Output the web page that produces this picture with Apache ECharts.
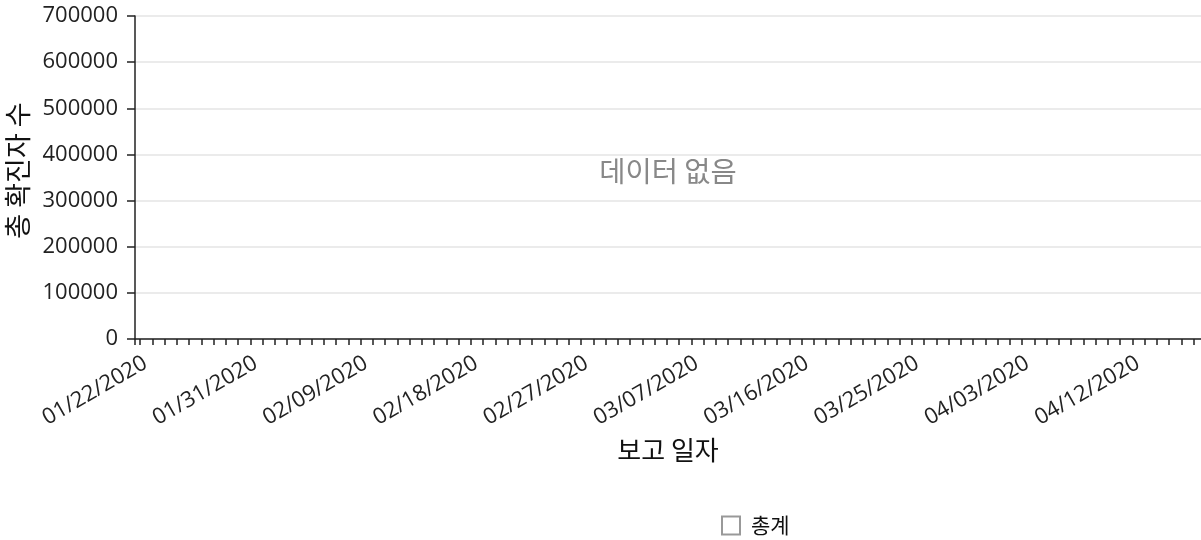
<!DOCTYPE html>
<html>
<head>
<meta charset="utf-8">
<script src="https://cdn.jsdelivr.net/npm/echarts@6/dist/echarts.min.js"></script>
<style>
html,body{margin:0;padding:0;background:#fff;}
#chart{width:1201px;height:540px;}
</style>
</head>
<body>
<div id="chart"></div>
<script>
// Categories: reporting dates (daily)
const dates = [
  '01/22/2020','01/23/2020','01/24/2020','01/25/2020','01/26/2020','01/27/2020','01/28/2020','01/29/2020','01/30/2020','01/31/2020',
  '02/01/2020','02/02/2020','02/03/2020','02/04/2020','02/05/2020','02/06/2020','02/07/2020','02/08/2020','02/09/2020','02/10/2020',
  '02/11/2020','02/12/2020','02/13/2020','02/14/2020','02/15/2020','02/16/2020','02/17/2020','02/18/2020','02/19/2020','02/20/2020',
  '02/21/2020','02/22/2020','02/23/2020','02/24/2020','02/25/2020','02/26/2020','02/27/2020','02/28/2020','02/29/2020',
  '03/01/2020','03/02/2020','03/03/2020','03/04/2020','03/05/2020','03/06/2020','03/07/2020','03/08/2020','03/09/2020','03/10/2020',
  '03/11/2020','03/12/2020','03/13/2020','03/14/2020','03/15/2020','03/16/2020','03/17/2020','03/18/2020','03/19/2020','03/20/2020',
  '03/21/2020','03/22/2020','03/23/2020','03/24/2020','03/25/2020','03/26/2020','03/27/2020','03/28/2020','03/29/2020','03/30/2020','03/31/2020',
  '04/01/2020','04/02/2020','04/03/2020','04/04/2020','04/05/2020','04/06/2020','04/07/2020','04/08/2020','04/09/2020','04/10/2020',
  '04/11/2020','04/12/2020','04/13/2020','04/14/2020','04/15/2020','04/16/2020','04/17/2020'
];
// Tick labels shown on the x axis
const xTickLabels = ['01/22/2020','01/31/2020','02/09/2020','02/18/2020','02/27/2020','03/07/2020','03/16/2020','03/25/2020','04/03/2020','04/12/2020'];
// Y axis ticks
const yTicks = [0, 100000, 200000, 300000, 400000, 500000, 600000, 700000];
// Series: total confirmed (no data available)
const seriesName = '총계';
const totals = [];
const noDataText = '데이터 없음';

const FONT = '"Open Sans", "Noto Sans CJK KR", sans-serif';
const KFONT = '"Noto Sans CJK KR", "Open Sans", sans-serif';

const xMin = -0.41, xMax = 86.6;
const tickIdx = dates.map((d, i) => i);
const labelIdx = xTickLabels.map(l => dates.indexOf(l));

const chart = echarts.init(document.getElementById('chart'), null, {renderer: 'canvas'});
chart.setOption({
  animation: false,
  backgroundColor: '#fff',
  grid: {left: 135, right: 0, top: 16, bottom: 201, containLabel: false, outerBoundsMode: 'none'},
  legend: {
    data: [seriesName],
    left: 716, top: 510,
    itemWidth: 18, itemHeight: 18, itemGap: 10,
    icon: 'rect',
    itemStyle: {color: '#fff', borderColor: '#999', borderWidth: 2},
    textStyle: {fontFamily: KFONT, fontSize: 21, color: '#111', padding: [0, 0, 0, 6]},
    selectedMode: false
  },
  xAxis: {
    type: 'value',
    min: xMin, max: xMax,
    name: '보고 일자',
    nameLocation: 'middle',
    nameGap: 98,
    nameTextStyle: {fontFamily: KFONT, fontSize: 26, color: '#111'},
    axisLine: {show: true, onZero: false, lineStyle: {color: '#222', width: 1.5}},
    axisTick: {show: true, length: 6, lineStyle: {color: '#222', width: 1.5}, customValues: [xMin].concat(tickIdx)},
    axisLabel: {
      customValues: labelIdx,
      formatter: v => dates[Math.round(v)] || '',
      rotate: 30, margin: 13,
      verticalAlign: 'top',
      fontFamily: FONT, fontSize: 22, color: '#222'
    },
    splitLine: {show: false}
  },
  yAxis: {
    type: 'value',
    min: yTicks[0], max: yTicks[yTicks.length - 1], interval: 100000,
    name: '총 확진자 수',
    nameLocation: 'middle',
    nameGap: 93,
    nameTextStyle: {fontFamily: KFONT, fontSize: 27, color: '#111', padding: [0, 0, 0, 14]},
    axisLine: {show: true, onZero: false, lineStyle: {color: '#222', width: 1.5}},
    axisTick: {show: true, length: 8, lineStyle: {color: '#222', width: 1.5}},
    axisLabel: {margin: 17, fontFamily: FONT, fontSize: 22, color: '#222', formatter: v => String(v)},
    splitLine: {show: true, lineStyle: {color: '#e5e5e5', width: 1.5}}
  },
  series: [{
    name: seriesName,
    type: 'line',
    data: totals,
    itemStyle: {color: '#fff', borderColor: '#999'},
    lineStyle: {color: '#999'}
  }],
  graphic: [{
    type: 'text',
    x: 668, y: 171,
    silent: true,
    style: {text: noDataText, fontFamily: KFONT, fontSize: 28.5, fill: '#888', align: 'center', verticalAlign: 'middle'}
  }]
});
</script>
</body>
</html>
